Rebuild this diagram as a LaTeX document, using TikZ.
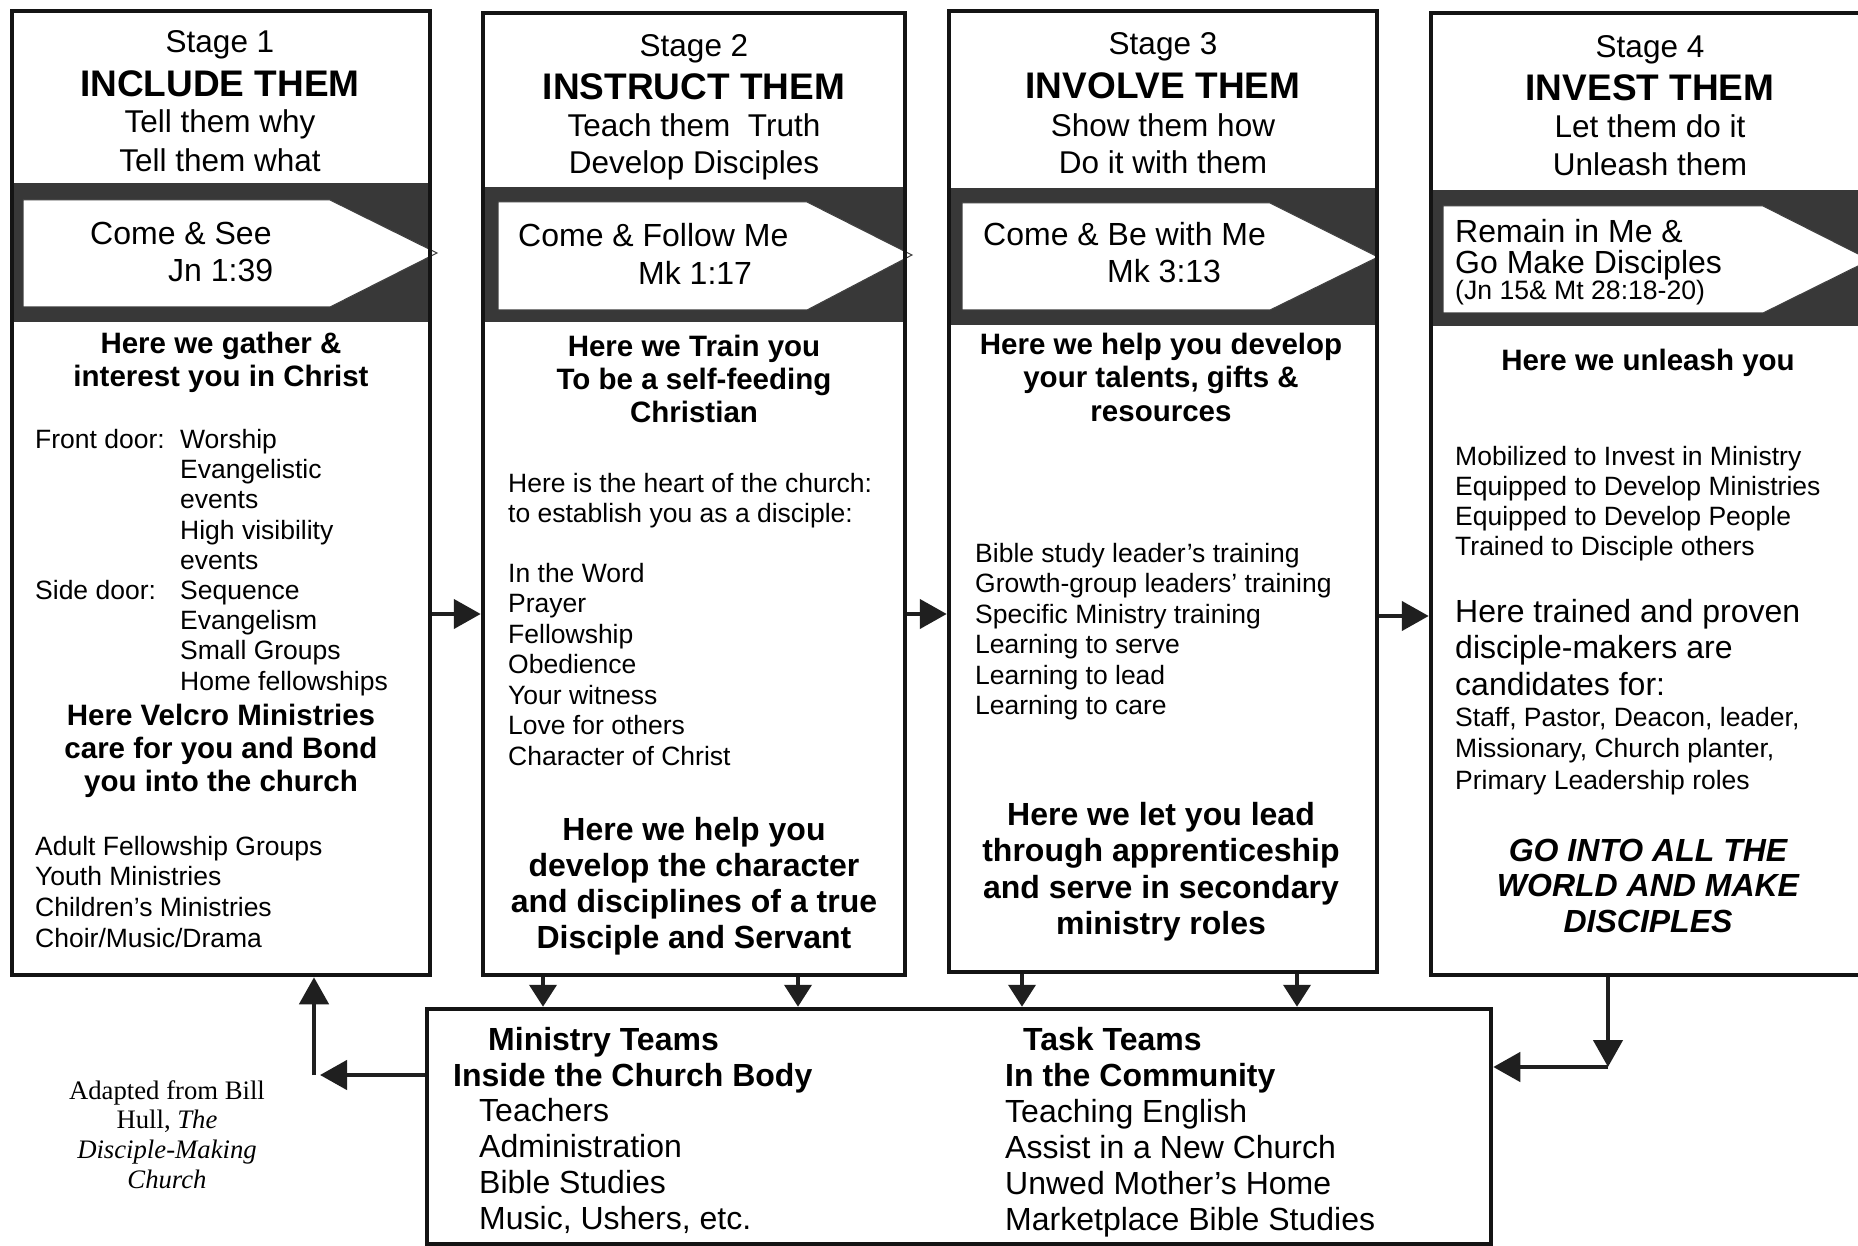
\documentclass[tikz,border=0pt]{standalone}
\usepackage{fontspec}
\setmainfont{Liberation Sans}
\newfontfamily\creditfont{Liberation Serif}
\usetikzlibrary{arrows.meta}
\begin{document}
\begin{tikzpicture}[x=1pt,y=-1pt,
  colbox/.style={draw=black!92, line width=4.5pt, rectangle, inner sep=0pt},
  band/.style={fill=black!78},
  tag/.style={fill=white, draw=black!75, line width=1pt},
  conn/.style={draw=black!88, line width=4.5pt, -{Triangle[length=27pt,width=29pt]}},
  dconn/.style={draw=black!88, line width=4pt, -{Triangle[length=22pt,width=27pt]}},
  tx/.style={inner sep=0pt, text=black},
  hsm/.style={tx, anchor=base, font=\fontsize{31.5}{36}\selectfont},
  hbig/.style={tx, anchor=base, font=\fontsize{37}{42}\selectfont\bfseries},
  arr/.style={tx, anchor=base west, font=\fontsize{32}{36}\selectfont},
  refx/.style={tx, anchor=base west, font=\fontsize{26.6}{30}\selectfont},
  itm/.style={tx, anchor=base west, font=\fontsize{26.5}{30}\selectfont},
  leadb/.style={tx, anchor=base, font=\fontsize{29.5}{33}\selectfont\bfseries},
  bigb/.style={tx, anchor=base, font=\fontsize{32}{36}\selectfont\bfseries},
  bigl/.style={tx, anchor=base west, font=\fontsize{32}{36}\selectfont},
  bigbi/.style={tx, anchor=base, font=\fontsize{32}{36}\selectfont\bfseries\itshape},
  teamb/.style={tx, anchor=base west, font=\fontsize{32}{36}\selectfont\bfseries},
  team/.style={tx, anchor=base west, font=\fontsize{32}{36}\selectfont},
  credit/.style={tx, anchor=base, font=\fontsize{26.7}{30}\selectfont\creditfont},
]
\clip (0,0) rectangle (1858,1246);
\fill[white] (0,0) rectangle (1858,1246);

% ---------- Column 1 ----------
\fill[band] (12,183) rectangle (430,322);
\path[tag] (23,200) -- (330,200) -- (437,253) -- (330,307) -- (23,307) -- cycle;
\node[colbox, minimum width=418pt, minimum height=964pt] (c1) at (221,493) {};
\node[hsm]  (h1a) at (220,53)    {Stage 1};
\node[hbig] (h1b) at (220,97)    {INCLUDE THEM};
\node[hsm]  (h1c) at (220,133)   {Tell them why};
\node[hsm]  (h1d) at (220,171.5) {Tell them what};
\node[arr]  (a1a) at (90,245)    {Come \& See};
\node[arr]  (a1b) at (168,282)   {Jn 1:39};
\node[leadb] (b1a) at (221,354)  {Here we gather \&};
\node[leadb] (b1b) at (221,387)  {interest you in Christ};
\node[itm] (fd) at (35,448.5) {Front door:};
\node[itm] (sd) at (35,599.5) {Side door:};
\foreach \t [count=\i] in {Worship,Evangelistic,events,High visibility,events,Sequence,Evangelism,Small Groups,Home fellowships}
  \node[itm] (l1\i) at (180,{448.5+30.2*(\i-1)}) {\t};
\node[leadb] (v1a) at (221,725) {Here Velcro Ministries};
\node[leadb] (v1b) at (221,758) {care for you and Bond};
\node[leadb] (v1c) at (221,791) {you into the church};
\foreach \t [count=\i] in {Adult Fellowship Groups,Youth Ministries,Children’s Ministries,Choir/Music/Drama}
  \node[itm] (m1\i) at (35,{855+30.7*(\i-1)}) {\t};

% ---------- Column 2 ----------
\fill[band] (483,187) rectangle (905,322);
\path[tag] (498,202) -- (807,202) -- (912,255) -- (807,310) -- (498,310) -- cycle;
\node[colbox, minimum width=422pt, minimum height=962pt] (c2) at (694,494) {};
\node[hsm]  (h2a) at (694,56.5) {Stage 2};
\node[hbig] (h2b) at (694,100)  {INSTRUCT THEM};
\node[hsm]  (h2c) at (694,137)  {Teach them~ Truth};
\node[hsm]  (h2d) at (694,174)  {Develop Disciples};
\node[arr]  (a2a) at (518,247)  {Come \& Follow Me};
\node[arr]  (a2b) at (638,285)  {Mk 1:17};
\node[leadb] (b2a) at (694,357)   {Here we Train you};
\node[leadb] (b2b) at (694,389.5) {To be a self-feeding};
\node[leadb] (b2c) at (694,423)   {Christian};
\node[itm] (p2a) at (508,492.5) {Here is the heart of the church:};
\node[itm] (p2b) at (508,522.5) {to establish you as a disciple:};
\foreach \t [count=\i] in {In the Word,Prayer,Fellowship,Obedience,Your witness,Love for others,Character of Christ}
  \node[itm] (l2\i) at (508,{582+30.5*(\i-1)}) {\t};
\foreach \t [count=\i] in {Here we help you,develop the character,and disciplines of a true,Disciple and Servant}
  \node[bigb] (g2\i) at (694,{840+36.3*(\i-1)}) {\t};

% ---------- Column 3 ----------
\fill[band] (949,188) rectangle (1377,325);
\path[tag] (962,203) -- (1270,203) -- (1378,257) -- (1270,310) -- (962,310) -- cycle;
\node[colbox, minimum width=428pt, minimum height=961pt] (c3) at (1163,491.5) {};
\node[hsm]  (h3a) at (1163,55)  {Stage 3};
\node[hbig] (h3b) at (1163,99)  {INVOLVE THEM};
\node[hsm]  (h3c) at (1163,137) {Show them how};
\node[hsm]  (h3d) at (1163,174) {Do it with them};
\node[arr]  (a3a) at (983,246)  {Come \& Be with Me};
\node[arr]  (a3b) at (1107,283) {Mk 3:13};
\node[leadb] (b3a) at (1161,354.5) {Here we help you develop};
\node[leadb] (b3b) at (1161,388)   {your talents, gifts \&};
\node[leadb] (b3c) at (1161,421)   {resources};
\foreach \t [count=\i] in {Bible study leader’s training,Growth-group leaders’ training,Specific Ministry training,Learning to serve,Learning to lead,Learning to care}
  \node[itm] (l3\i) at (975,{562+30.5*(\i-1)}) {\t};
\foreach \t [count=\i] in {Here we let you lead,through apprenticeship,and serve in secondary,ministry roles}
  \node[bigb] (g3\i) at (1161,{825+36.5*(\i-1)}) {\t};

% ---------- Column 4 ----------
\fill[band] (1431,190) rectangle (1900,326);
\path[tag] (1443,206) -- (1763,206) -- (1870,260) -- (1763,313) -- (1443,313) -- cycle;
\node[colbox, minimum width=469pt, minimum height=962pt] (c4) at (1665.5,494) {};
\node[hsm]  (h4a) at (1650,58)  {Stage 4};
\node[hbig] (h4b) at (1650,101) {INVEST THEM};
\node[hsm]  (h4c) at (1650,138) {Let them do it};
\node[hsm]  (h4d) at (1650,176) {Unleash them};
\node[arr]  (a4a) at (1455,243) {Remain in Me \&};
\node[arr]  (a4b) at (1455,274) {Go Make Disciples};
\node[refx] (a4c) at (1455,300) {(Jn 15\& Mt 28:18-20)};
\node[leadb] (b4a) at (1648,371) {Here we unleash you};
\foreach \t [count=\i] in {Mobilized to Invest in Ministry,Equipped to Develop Ministries,Equipped to Develop People,Trained to Disciple others}
  \node[itm] (l4\i) at (1455,{465+30.2*(\i-1)}) {\t};
\foreach \t [count=\i] in {Here trained and proven,disciple-makers are,candidates for:}
  \node[bigl] (k4\i) at (1455,{622+36.5*(\i-1)}) {\t};
\foreach \t [count=\i] in {{Staff, Pastor, Deacon, leader,},{Missionary, Church planter,},Primary Leadership roles}
  \node[itm] (r4\i) at (1455,{726+31.5*(\i-1)}) {\t};
\foreach \t [count=\i] in {GO INTO ALL THE,WORLD AND MAKE,DISCIPLES}
  \node[bigbi] (w4\i) at (1648,{861+35.7*(\i-1)}) {\t};

% ---------- Bottom box ----------
\node[colbox, minimum width=1064pt, minimum height=235pt] (bb) at (959,1126.5) {};
\node[teamb] (t1a) at (488,1050) {Ministry Teams};
\node[teamb] (t1b) at (453,1086) {Inside the Church Body};
\foreach \t [count=\i] in {Teachers,Administration,Bible Studies,{Music, Ushers, etc.}}
  \node[team] (u1\i) at (479,{1121.7+35.8*(\i-1)}) {\t};
\node[teamb] (t2a) at (1023,1050.7) {Task Teams};
\node[teamb] (t2b) at (1005,1086.7) {In the Community};
\foreach \t [count=\i] in {Teaching English,Assist in a New Church,Unwed Mother’s Home,Marketplace Bible Studies}
  \node[team] (u2\i) at (1005,{1122.7+36*(\i-1)}) {\t};

% ---------- Credit ----------
\node[credit] (cr1) at (167,1099) {Adapted from Bill};
\node[credit] (cr2) at (167,1128) {Hull, \textit{The}};
\node[credit] (cr3) at (167,1158) {\textit{Disciple-Making}};
\node[credit] (cr4) at (167,1188) {\textit{Church}};

% ---------- Connectors ----------
\coordinate (ya) at (0,614);
\coordinate (yb) at (0,616);
\draw[conn] (c1.east |- ya) -- (c2.west |- ya);
\draw[conn] (c2.east |- ya) -- (c3.west |- ya);
\draw[conn] (c3.east |- yb) -- (c4.west |- yb);

\coordinate (d1) at (543,0);
\coordinate (d2) at (798,0);
\coordinate (d3) at (1022,0);
\coordinate (d4) at (1297,0);
\draw[dconn] (c2.south -| d1) -- (bb.north -| d1);
\draw[dconn] (c2.south -| d2) -- (bb.north -| d2);
\draw[dconn] (c3.south -| d3) -- (bb.north -| d3);
\draw[dconn] (c3.south -| d4) -- (bb.north -| d4);

\coordinate (lc) at (314,1075);
\coordinate (lt) at (320,1075);
\draw[conn] (bb.west |- lc) -- (lt);
\draw[conn] (lc) -- (c1.south -| lc);

\coordinate (rc) at (1608,1067);
\draw[conn] (c4.south -| rc) -- (rc);
\draw[conn] (rc) -- (bb.east |- rc);
\end{tikzpicture}
\end{document}
